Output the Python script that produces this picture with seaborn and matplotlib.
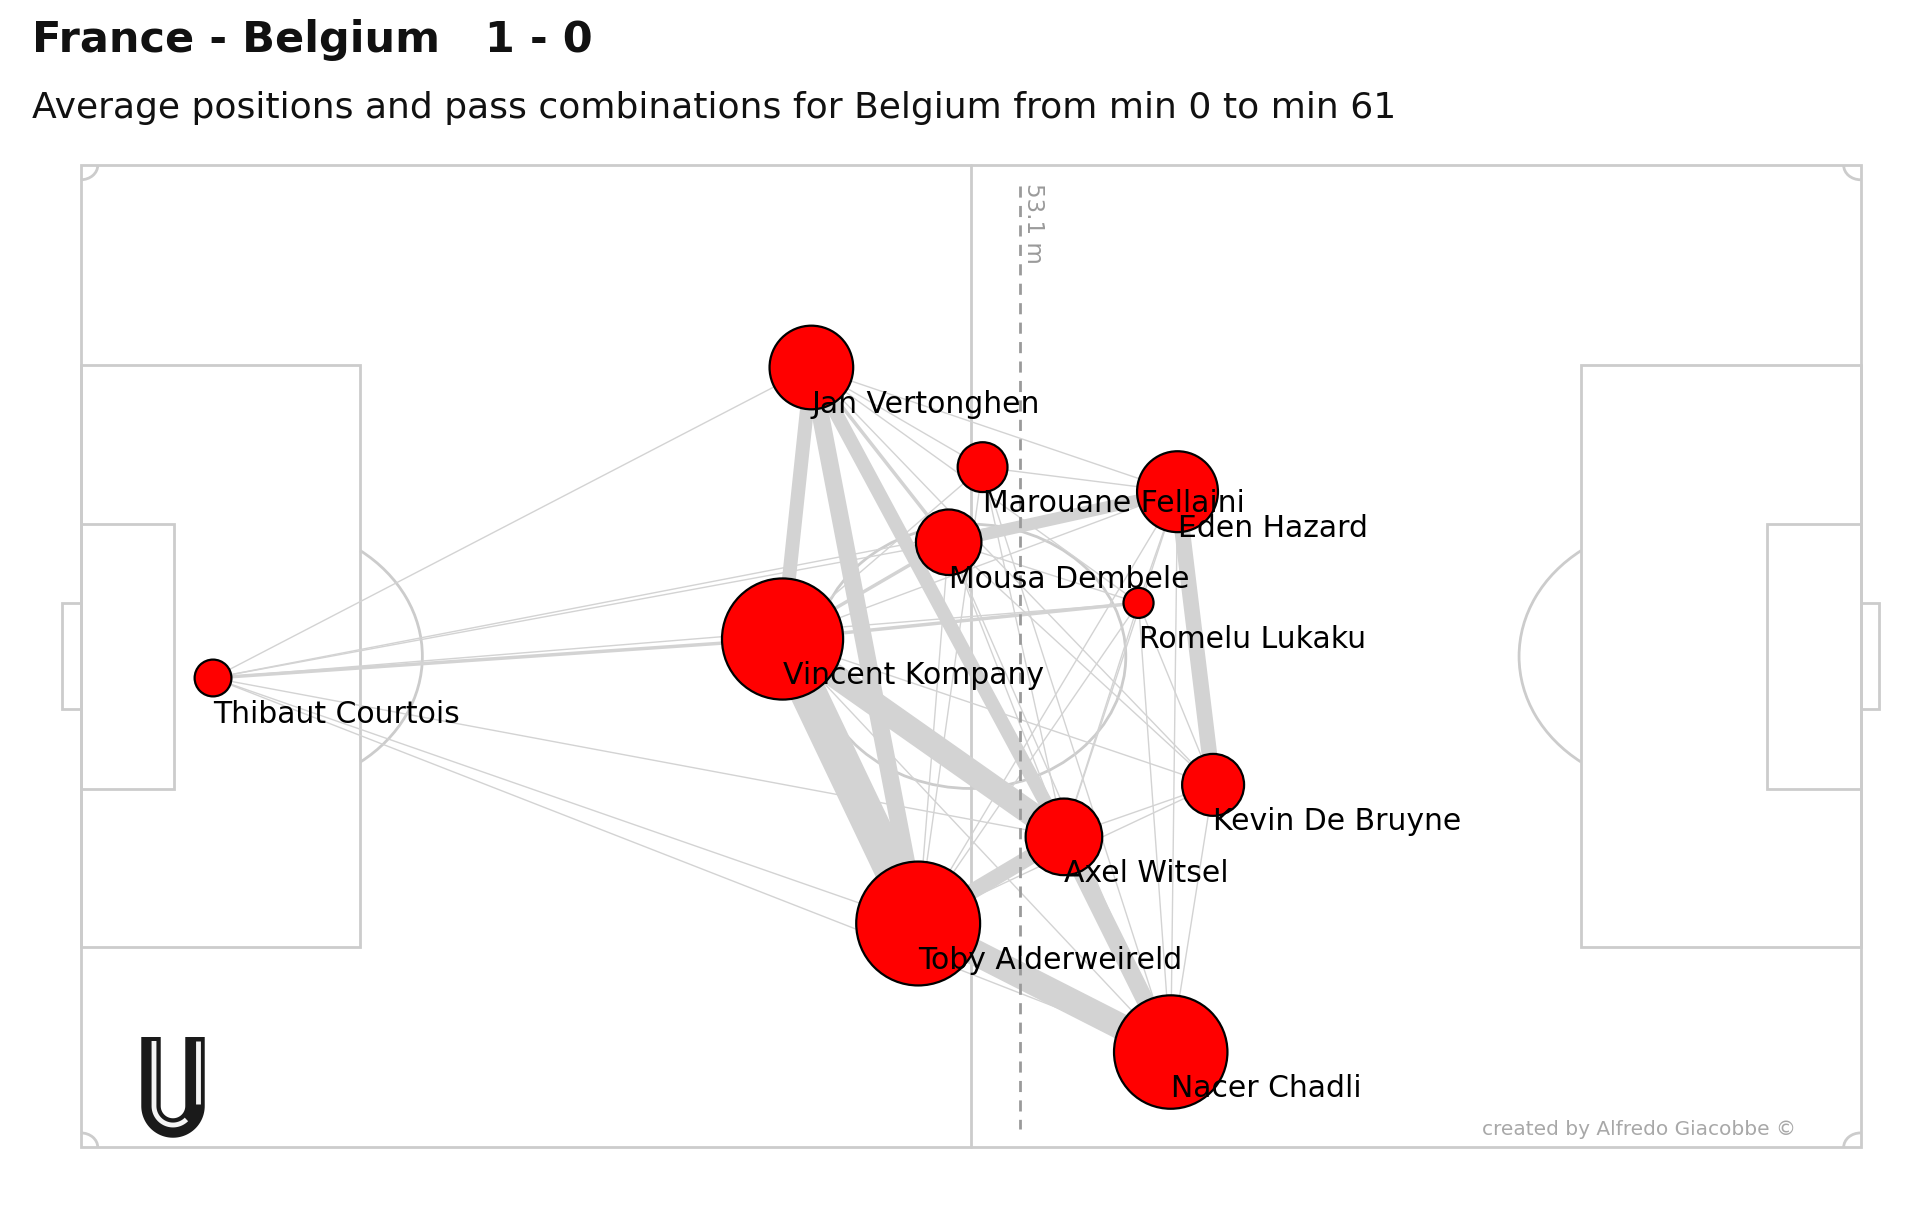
import numpy as np
import pandas as pd
import matplotlib
matplotlib.use("Agg")
import matplotlib.pyplot as plt
from matplotlib.patches import Rectangle, Arc, Ellipse
import seaborn as sns

players = ["Thibaut Courtois", "Jan Vertonghen", "Marouane Fellaini", "Eden Hazard",
           "Mousa Dembele", "Romelu Lukaku", "Vincent Kompany", "Kevin De Bruyne",
           "Axel Witsel", "Toby Alderweireld", "Nacer Chadli"]
avg_x = [7.8, 43.1, 53.2, 64.7, 51.2, 62.4, 41.4, 66.8, 58.0, 49.4, 64.3]
avg_y = [35.5, 14.0, 20.9, 22.6, 26.1, 30.3, 32.8, 42.9, 46.5, 52.5, 61.4]
passes = [6, 31, 11, 29, 19, 4, 65, 17, 26, 68, 57]

edge_from = ["Vincent Kompany", "Toby Alderweireld", "Vincent Kompany", "Jan Vertonghen",
             "Jan Vertonghen", "Jan Vertonghen", "Axel Witsel", "Toby Alderweireld",
             "Mousa Dembele", "Eden Hazard", "Vincent Kompany", "Jan Vertonghen",
             "Jan Vertonghen", "Jan Vertonghen", "Jan Vertonghen", "Jan Vertonghen",
             "Marouane Fellaini", "Marouane Fellaini", "Marouane Fellaini", "Marouane Fellaini",
             "Marouane Fellaini", "Mousa Dembele", "Mousa Dembele", "Mousa Dembele",
             "Mousa Dembele", "Mousa Dembele", "Eden Hazard", "Eden Hazard", "Eden Hazard",
             "Eden Hazard", "Eden Hazard", "Romelu Lukaku", "Romelu Lukaku", "Romelu Lukaku",
             "Romelu Lukaku", "Romelu Lukaku", "Kevin De Bruyne", "Kevin De Bruyne",
             "Kevin De Bruyne", "Kevin De Bruyne", "Nacer Chadli", "Thibaut Courtois",
             "Thibaut Courtois", "Thibaut Courtois", "Thibaut Courtois", "Thibaut Courtois",
             "Thibaut Courtois", "Thibaut Courtois", "Thibaut Courtois"]
edge_to = ["Toby Alderweireld", "Nacer Chadli", "Axel Witsel", "Toby Alderweireld",
           "Vincent Kompany", "Axel Witsel", "Nacer Chadli", "Axel Witsel",
           "Eden Hazard", "Kevin De Bruyne", "Mousa Dembele", "Marouane Fellaini",
           "Mousa Dembele", "Eden Hazard", "Romelu Lukaku", "Kevin De Bruyne",
           "Eden Hazard", "Vincent Kompany", "Axel Witsel", "Toby Alderweireld",
           "Nacer Chadli", "Toby Alderweireld", "Axel Witsel", "Nacer Chadli",
           "Kevin De Bruyne", "Romelu Lukaku", "Vincent Kompany", "Romelu Lukaku", "Axel Witsel",
           "Nacer Chadli", "Toby Alderweireld", "Vincent Kompany", "Axel Witsel", "Nacer Chadli",
           "Kevin De Bruyne", "Toby Alderweireld", "Axel Witsel", "Nacer Chadli",
           "Vincent Kompany", "Toby Alderweireld", "Vincent Kompany", "Jan Vertonghen",
           "Vincent Kompany", "Mousa Dembele", "Eden Hazard", "Romelu Lukaku",
           "Axel Witsel", "Toby Alderweireld", "Nacer Chadli"]
edge_passes = [21, 15, 14, 10, 8, 8, 10, 9, 7, 9, 2, 1,
               2, 1, 1, 1, 1, 1, 1, 1,
               1, 1, 1, 1, 1, 1, 1, 1, 1,
               1, 1, 2, 1, 1, 1, 1, 1, 1,
               1, 1, 1, 1, 2, 1, 1, 1,
               1, 1, 1]

team_depth = 53.1      # value written on the line
depth_line_x = 55.4    # where the line sits on the 105 m pitch
title = "France - Belgium   1 - 0"
subtitle = "Average positions and pass combinations for Belgium from min 0 to min 61"
credit = "created by Alfredo Giacobbe \u00a9"

df = pd.DataFrame({"player": players, "x": avg_x, "y": avg_y, "passes": passes})
pos = df.set_index("player")

sns.set_theme(style="white")
plt.rcParams["font.family"] = ["DejaVu Sans"]

fig = plt.figure(figsize=(19.2, 12.23), dpi=100)
ax = fig.add_axes([0.02443, 0.05004, 0.9623, 0.8266])

# pitch
lc = "#cccccc"
plw = 2.0
def box(x, y, w, h):
    ax.add_patch(Rectangle((x, y), w, h, fill=False, ec=lc, lw=plw, zorder=1))

box(0, 0, 105, 68)
ax.plot([52.5, 52.5], [0, 68], color=lc, lw=plw, zorder=1)
ax.add_patch(Ellipse((52.5, 34), 18.3, 18.3, fill=False, ec=lc, lw=plw, zorder=1))
box(0, 13.84, 16.5, 40.32)
box(105 - 16.5, 13.84, 16.5, 40.32)
box(0, 24.84, 5.5, 18.32)
box(105 - 5.5, 24.84, 5.5, 18.32)
box(-1.1, 30.34, 1.1, 7.32)
box(105, 30.34, 1.1, 7.32)
ax.add_patch(Arc((11, 34), 18.3, 18.3, theta1=-53.13, theta2=53.13, ec=lc, lw=plw, zorder=1))
ax.add_patch(Arc((94, 34), 18.3, 18.3, theta1=126.87, theta2=233.13, ec=lc, lw=plw, zorder=1))
for cx, cy, t1 in [(0, 0, 0), (105, 0, 90), (105, 68, 180), (0, 68, 270)]:
    ax.add_patch(Arc((cx, cy), 2, 2, theta1=t1, theta2=t1 + 90, ec=lc, lw=plw, zorder=1))

# pass network edges
for a, b, n in zip(edge_from, edge_to, edge_passes):
    ax.plot([pos.loc[a, "x"], pos.loc[b, "x"]], [pos.loc[a, "y"], pos.loc[b, "y"]],
            color="#d3d3d3", lw=1.0 if n == 1 else 1.25 * n,
            solid_capstyle="butt", zorder=2)

# team depth line
ax.plot([depth_line_x, depth_line_x], [1.4, 66.7], color="#9a9a9a", lw=2,
        ls=(0, (4, 3)), zorder=3)
ax.text(depth_line_x + 0.8, 1.2, f"{team_depth} m", rotation=-90, ha="center", va="top",
        color="#9a9a9a", fontsize=16.5, zorder=3)

# nodes
sns.scatterplot(data=df, x="x", y="y", size="passes", sizes=(4 * 117, 68 * 117),
                color="red", edgecolor="black", linewidth=1.6, legend=False, ax=ax, zorder=4)
ax.set_xlim(-2, 107)
ax.set_ylim(69, -1)
ax.axis("off")

for _, r in df.iterrows():
    ax.text(r["x"], r["y"] + 2.55, r["player"], ha="left", va="center",
            fontsize=21.5, color="black", zorder=5)

ax.text(101.2, 66.75, credit, ha="right", va="center", fontsize=14.5, color="#a8a8a8", zorder=5)

# titles
fig.text(0.0167, 1 - 40 / 1223, title, ha="left", va="center", fontsize=31,
         fontweight="bold", color="#111111")
fig.text(0.0167, 1 - 108 / 1223, subtitle, ha="left", va="center", fontsize=26,
         color="#111111")

# small "U" logo
lax = fig.add_axes([141 / 1920, (1223 - 1138) / 1223, 64 / 1920, 104 / 1223])
lax.set_xlim(0, 64)
lax.set_ylim(0, 104)
lax.axis("off")
t = np.linspace(np.pi, 2 * np.pi, 60)
ux = np.concatenate([[10, 10], 32 + 22 * np.cos(t), [54, 54]])
uy = np.concatenate([[101, 32], 32 + 22 * np.sin(t), [32, 101]])
lax.plot(ux, uy, color="#1a1a1a", lw=14, solid_capstyle="butt", solid_joinstyle="round")
t2 = np.linspace(np.pi, 1.75 * np.pi, 40)
wx = np.concatenate([[13, 13], 32 + 19 * np.cos(t2)])
wy = np.concatenate([[97, 32], 32 + 19 * np.sin(t2)])
lax.plot(wx, wy, color="#f4f4f4", lw=3.5, solid_capstyle="butt")
lax.plot([57, 57], [97, 34], color="#f4f4f4", lw=3.5, solid_capstyle="butt")

fig.savefig("out.png", dpi=100, facecolor="white")
